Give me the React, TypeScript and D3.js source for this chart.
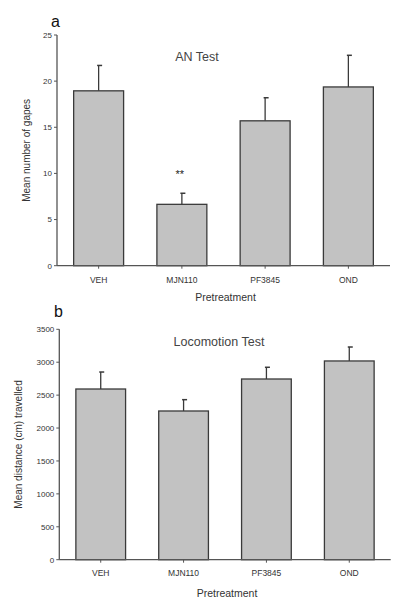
import React from "react";
import * as d3 from "d3";

const categories = ["VEH", "MJN110", "PF3845", "OND"];
const gapesMean = [18.95, 6.65, 15.7, 19.37];
const gapesErr = [2.75, 1.2, 2.5, 3.43];
const locoMean = [2593, 2259, 2745, 3019];
const locoErr = [258, 172, 178, 212];
const gapesTicks = [0, 5, 10, 15, 20, 25];
const locoTicks = [0, 500, 1000, 1500, 2000, 2500, 3000, 3500];
const sigMarks = ["", "**", "", ""];

const FONT = "Liberation Sans, Arial, sans-serif";

type PanelProps = {
  letter: string;
  title: string;
  yLabel: string;
  means: number[];
  errs: number[];
  ticks: number[];
  yMax: number;
  x0: number;
  x1: number;
  yBottom: number;
  yTop: number;
  titleX: number;
  titleY: number;
  letterX: number;
  letterY: number;
  yLabelX: number;
  xLabelY: number;
  xTitleY: number;
  marks?: string[];
};

function Panel(p: PanelProps) {
  const x = d3
    .scaleBand<string>()
    .domain(categories)
    .range([p.x0, p.x1])
    .paddingInner(0.4)
    .paddingOuter(0.2);
  const y = d3.scaleLinear().domain([0, p.yMax]).range([p.yBottom, p.yTop]);
  const bw = x.bandwidth();
  const stroke = "#3a3a3a";
  const axisCol = "#555";
  return (
    <g>
      <text x={p.letterX} y={p.letterY} fontFamily={FONT} fontSize={16} fill="#111">
        {p.letter}
      </text>
      <text x={p.titleX} y={p.titleY} fontFamily={FONT} fontSize={12.5} fill="#444" textAnchor="middle">
        {p.title}
      </text>
      {categories.map((c, i) => {
        const cx = (x(c) as number) + bw / 2;
        const top = y(p.means[i]);
        const errTop = y(p.means[i] + p.errs[i]);
        return (
          <g key={c}>
            <line x1={cx} x2={cx} y1={top} y2={errTop} stroke={stroke} strokeWidth={1.3} />
            <line x1={cx - 1.5} x2={cx + 3.5} y1={errTop} y2={errTop} stroke={stroke} strokeWidth={1.5} />
            <rect
              x={x(c) as number}
              y={top}
              width={bw}
              height={y(0) - top}
              fill="#c2c2c2"
              stroke={stroke}
              strokeWidth={1.3}
            />
            {p.marks && p.marks[i] ? (
              <text x={cx - 2} y={errTop - 15} fontFamily={FONT} fontSize={11} fill="#222" textAnchor="middle">
                {p.marks[i]}
              </text>
            ) : null}
          </g>
        );
      })}
      <line x1={p.x0} x2={p.x0} y1={y(0)} y2={y(p.yMax)} stroke={axisCol} strokeWidth={1.3} />
      <line x1={p.x0} x2={p.x1} y1={y(0)} y2={y(0)} stroke={axisCol} strokeWidth={1.3} />
      {p.ticks.map((t) => (
        <g key={t}>
          <line x1={p.x0 - 3} x2={p.x0} y1={y(t)} y2={y(t)} stroke={axisCol} strokeWidth={1} />
          <text
            x={p.x0 - 5}
            y={y(t)}
            dy="0.35em"
            fontFamily={FONT}
            fontSize={8}
            fill="#333"
            textAnchor="end"
          >
            {t}
          </text>
        </g>
      ))}
      {categories.map((c) => {
        const cx = (x(c) as number) + bw / 2;
        return (
          <g key={"xt" + c}>
            <line x1={cx} x2={cx} y1={y(0)} y2={y(0) + 3} stroke={axisCol} strokeWidth={1} />
            <text x={cx} y={p.xLabelY} fontFamily={FONT} fontSize={8.5} fill="#333" textAnchor="middle">
              {c}
            </text>
          </g>
        );
      })}
      <text x={(p.x0 + p.x1) / 2 + 2} y={p.xTitleY} fontFamily={FONT} fontSize={10.5} fill="#333" textAnchor="middle">
        Pretreatment
      </text>
      <text
        transform={`translate(${p.yLabelX},${(p.yBottom + p.yTop) / 2}) rotate(-90)`}
        fontFamily={FONT}
        fontSize={10}
        fill="#333"
        textAnchor="middle"
      >
        {p.yLabel}
      </text>
    </g>
  );
}

export default function App() {
  return (
    <svg
      width={405}
      height={614}
      style={{ position: "absolute", left: 0, top: 0, background: "#fff" }}
    >
      <rect width={405} height={614} fill="#fff" />
      <Panel
        letter="a"
        title="AN Test"
        yLabel="Mean number of gapes"
        means={gapesMean}
        errs={gapesErr}
        ticks={gapesTicks}
        yMax={25}
        x0={57}
        x1={390}
        yBottom={265.7}
        yTop={35}
        titleX={197}
        titleY={61}
        letterX={51}
        letterY={27}
        yLabelX={30}
        xLabelY={283}
        xTitleY={301}
        marks={sigMarks}
      />
      <Panel
        letter="b"
        title="Locomotion Test"
        yLabel="Mean distance (cm) travelled"
        means={locoMean}
        errs={locoErr}
        ticks={locoTicks}
        yMax={3500}
        x0={59.3}
        x1={390.7}
        yBottom={559.7}
        yTop={329.3}
        titleX={219}
        titleY={346}
        letterX={54}
        letterY={317}
        yLabelX={22}
        xLabelY={576}
        xTitleY={597}
      />
    </svg>
  );
}
